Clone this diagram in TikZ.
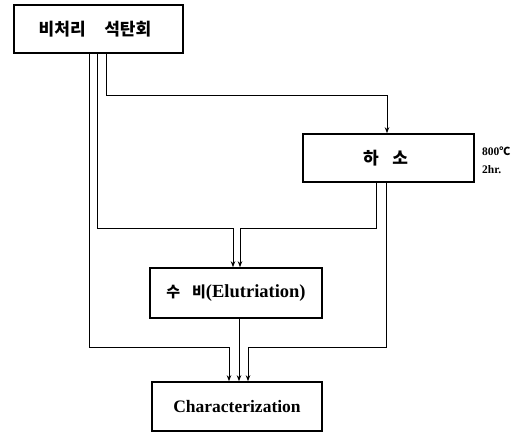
\documentclass[tikz,border=0pt]{standalone}
\usepackage{fontspec}
\setmainfont{Liberation Serif}
\newfontfamily\kr{Noto Sans CJK KR}
\usetikzlibrary{arrows.meta}
\tikzset{
  box/.style={draw, line width=1.6pt, inner sep=0pt, anchor=center},
  conn/.style={line width=0.8pt},
  arr/.style={conn, -{Stealth[length=6pt,width=4.5pt]}},
  krtext/.style={font=\kr\bfseries\fontsize{17}{20}\selectfont},
  lattext/.style={font=\bfseries\fontsize{17.5}{20}\selectfont},
  note/.style={anchor=west, inner sep=0pt, font=\bfseries\fontsize{11.5}{13}\selectfont},
}
\begin{document}
\begin{tikzpicture}[x=1pt,y=-1pt]
\useasboundingbox (0,0) rectangle (529,433);
\node[box, minimum width=169pt, minimum height=48pt, krtext] (b1) at (98.5,29) {\hspace{-7pt}비처리\hspace{1.1em}석탄회};
\node[box, minimum width=171pt, minimum height=48pt, krtext] (b2) at (388.5,158) {\hspace{-6pt}하\hspace{0.8em}소};
\node[box, minimum width=172pt, minimum height=50pt, lattext] (b3) at (236,293) {{\kr\fontsize{15}{18}\selectfont 수\hspace{0.8em}비}\fontsize{18.5}{20}\selectfont(Elutriation)};
\node[box, minimum width=170pt, minimum height=49pt, lattext] (b4) at (237,406.5) {Characterization};
\node[note] (t1) at (482,151) {800{\kr\fontsize{11}{13}\selectfont ℃}};
\node[note] (t2) at (482,170) {2hr.};
% x positions
\coordinate (xA) at (89,0);
\coordinate (xB) at (97,0);
\coordinate (xC) at (106,0);
\coordinate (xCe) at (387,0);
\coordinate (xD) at (376,0);
\coordinate (xF) at (386,0);
\coordinate (xA4) at (229,0);
\coordinate (xE) at (239,0);
\coordinate (xF4) at (248,0);
\coordinate (xB3) at (233,0);
\coordinate (xD3) at (240,0);
\coordinate (yA) at (0,347);
\coordinate (yB) at (0,228);
\coordinate (yC) at (0,95);
% connectors
\draw[arr] (b1.south -| xA) -- (xA |- yA) -- (xA4 |- yA) -- (b4.north -| xA4);
\draw[arr] (b1.south -| xB) -- (xB |- yB) -- (xB3 |- yB) -- (b3.north -| xB3);
\draw[arr] (b1.south -| xC) -- (xC |- yC) -- (xCe |- yC) -- (b2.north -| xCe);
\draw[arr] (b2.south -| xD) -- (xD |- yB) -- (xD3 |- yB) -- (b3.north -| xD3);
\draw[arr] (b3.south -| xE) -- (b4.north -| xE);
\draw[arr] (b2.south -| xF) -- (xF |- yA) -- (xF4 |- yA) -- (b4.north -| xF4);
\end{tikzpicture}
\end{document}
